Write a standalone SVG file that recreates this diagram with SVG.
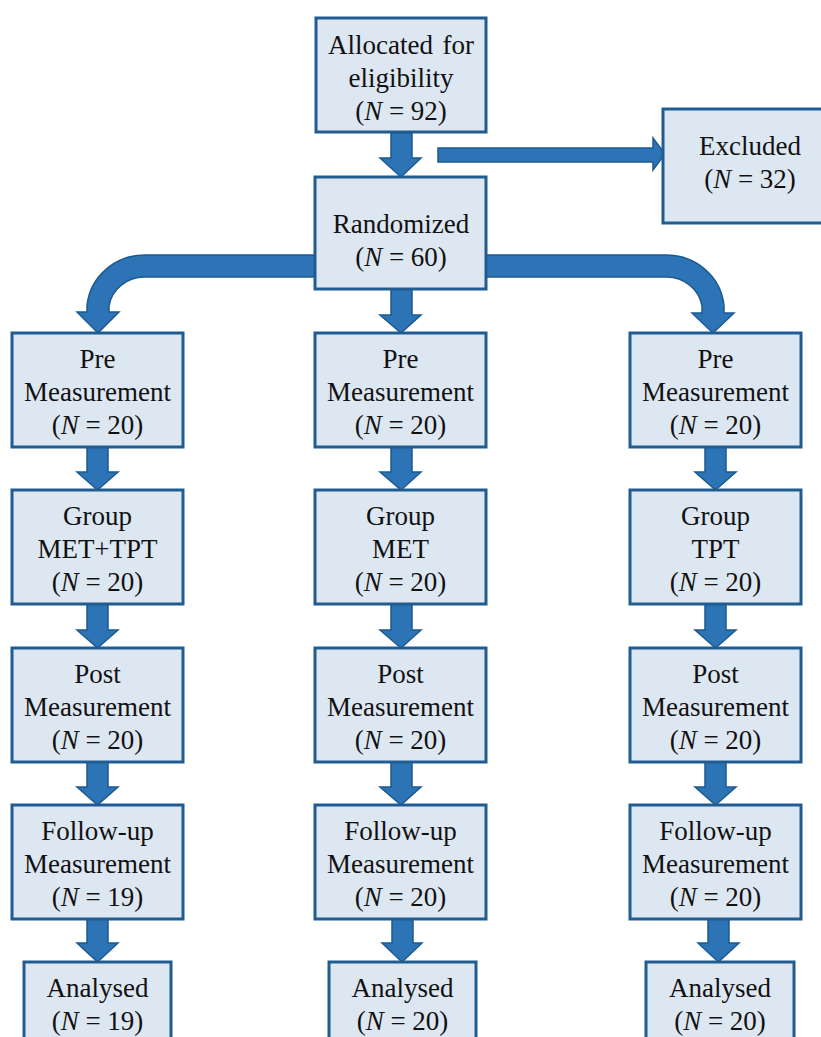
<svg xmlns="http://www.w3.org/2000/svg" width="821" height="1037" viewBox="0 0 821 1037">
<style>
.box{fill:#dde7f2;stroke:#215c91;stroke-width:3}
.arr{fill:#2d74b7;stroke:#1d5a8f;stroke-width:1.5;stroke-linejoin:miter}
.t{font-family:'Liberation Serif','Times New Roman','DejaVu Serif',serif;font-size:27px;fill:#111111;text-anchor:middle}
.i{font-style:italic}
</style>
<rect width="821" height="1037" fill="#ffffff"/>
<g id="connectors">
<path class="arr" d="M391,133 L412,133 L412,158 L421,158 L401,177 L380,158 L391,158 Z"/>
<path class="arr" d="M438,148 L653,148 L653,138 L665,154 L653,170 L653,162 L438,162 Z"/>
<path class="arr" d="M391,289 L412,289 L412,315 L421,315 L401,333 L380,315 L391,315 Z"/>
<path class="arr" d="M480,255 L666,255 A58,56 0 0 1 724,306 L724,313 L734,313 L713,333 L692,313 L702,313 L702,306 A36,34 0 0 0 666,277 L480,277 Z"/>
<path class="arr" d="M320,255 L145,255 A58,56 0 0 0 87,306 L87,312 L77,312 L98,333 L119,312 L109,312 L109,306 A36,34 0 0 1 145,277 L320,277 Z"/>
<path class="arr" d="M87,447 L108,447 L108,472 L118,472 L97.5,490 L77,472 L87,472 Z"/>
<path class="arr" d="M87,604 L108,604 L108,630 L118,630 L97.5,648 L77,630 L87,630 Z"/>
<path class="arr" d="M87,762 L108,762 L108,787 L118,787 L97.5,805 L77,787 L87,787 Z"/>
<path class="arr" d="M87,919 L108,919 L108,943 L118,943 L97.5,962 L77,943 L87,943 Z"/>
<path class="arr" d="M391,447 L412,447 L412,472 L421,472 L401,490 L380,472 L391,472 Z"/>
<path class="arr" d="M391,604 L412,604 L412,630 L421,630 L401,648 L380,630 L391,630 Z"/>
<path class="arr" d="M391,762 L412,762 L412,787 L421,787 L401,805 L380,787 L391,787 Z"/>
<path class="arr" d="M392,919 L413,919 L413,943 L422,943 L402,962 L382,943 L392,943 Z"/>
<path class="arr" d="M705,447 L726,447 L726,472 L736,472 L715.5,490 L695,472 L705,472 Z"/>
<path class="arr" d="M705,604 L726,604 L726,630 L736,630 L715.5,648 L695,630 L705,630 Z"/>
<path class="arr" d="M705,762 L726,762 L726,787 L736,787 L715.5,805 L695,787 L705,787 Z"/>
<path class="arr" d="M708,919 L729,919 L729,943 L739,943 L718.5,962 L698,943 L708,943 Z"/>
</g>
<g id="allocated">
<rect class="box" x="316" y="18" width="170" height="114"/>
<text class="t" x="328" y="54" style="text-anchor:start">Allocated</text>
<text class="t" x="474" y="54" style="text-anchor:end">for</text>
<text class="t" x="401" y="87">eligibility</text>
<text class="t" x="401" y="120">(<tspan class="i">N</tspan> = 92)</text>
</g>
<g id="excluded">
<rect class="box" x="663" y="109" width="175" height="114"/>
<text class="t" x="750" y="155">Excluded</text>
<text class="t" x="750" y="188">(<tspan class="i">N</tspan> = 32)</text>
</g>
<g id="randomized">
<rect class="box" x="315" y="177" width="171" height="112"/>
<text class="t" x="401" y="233">Randomized</text>
<text class="t" x="401" y="266">(<tspan class="i">N</tspan> = 60)</text>
</g>
<g id="pre-left"><rect class="box" x="12" y="333" width="171" height="114"/><text class="t" x="97.5" y="368">Pre</text><text class="t" x="97.5" y="401">Measurement</text><text class="t" x="97.5" y="434">(<tspan class="i">N</tspan> = 20)</text></g>
<g id="group-left"><rect class="box" x="12" y="490" width="171" height="114"/><text class="t" x="97.5" y="525">Group</text><text class="t" x="97.5" y="558">MET+TPT</text><text class="t" x="97.5" y="591">(<tspan class="i">N</tspan> = 20)</text></g>
<g id="post-left"><rect class="box" x="12" y="648" width="171" height="114"/><text class="t" x="97.5" y="683">Post</text><text class="t" x="97.5" y="716">Measurement</text><text class="t" x="97.5" y="749">(<tspan class="i">N</tspan> = 20)</text></g>
<g id="follow-left"><rect class="box" x="12" y="805" width="171" height="114"/><text class="t" x="97.5" y="840">Follow-up</text><text class="t" x="97.5" y="873">Measurement</text><text class="t" x="97.5" y="906">(<tspan class="i">N</tspan> = 19)</text></g>
<g id="analysed-left"><rect class="box" x="24" y="962" width="147" height="100"/><text class="t" x="97.5" y="997">Analysed</text><text class="t" x="97.5" y="1030">(<tspan class="i">N</tspan> = 19)</text></g>
<g id="pre-center"><rect class="box" x="315" y="333" width="171" height="114"/><text class="t" x="400.5" y="368">Pre</text><text class="t" x="400.5" y="401">Measurement</text><text class="t" x="400.5" y="434">(<tspan class="i">N</tspan> = 20)</text></g>
<g id="group-center"><rect class="box" x="315" y="490" width="171" height="114"/><text class="t" x="400.5" y="525">Group</text><text class="t" x="400.5" y="558">MET</text><text class="t" x="400.5" y="591">(<tspan class="i">N</tspan> = 20)</text></g>
<g id="post-center"><rect class="box" x="315" y="648" width="171" height="114"/><text class="t" x="400.5" y="683">Post</text><text class="t" x="400.5" y="716">Measurement</text><text class="t" x="400.5" y="749">(<tspan class="i">N</tspan> = 20)</text></g>
<g id="follow-center"><rect class="box" x="315" y="805" width="171" height="114"/><text class="t" x="400.5" y="840">Follow-up</text><text class="t" x="400.5" y="873">Measurement</text><text class="t" x="400.5" y="906">(<tspan class="i">N</tspan> = 20)</text></g>
<g id="analysed-center"><rect class="box" x="329" y="962" width="147" height="100"/><text class="t" x="402.5" y="997">Analysed</text><text class="t" x="402.5" y="1030">(<tspan class="i">N</tspan> = 20)</text></g>
<g id="pre-right"><rect class="box" x="630" y="333" width="171" height="114"/><text class="t" x="715.5" y="368">Pre</text><text class="t" x="715.5" y="401">Measurement</text><text class="t" x="715.5" y="434">(<tspan class="i">N</tspan> = 20)</text></g>
<g id="group-right"><rect class="box" x="630" y="490" width="171" height="114"/><text class="t" x="715.5" y="525">Group</text><text class="t" x="715.5" y="558">TPT</text><text class="t" x="715.5" y="591">(<tspan class="i">N</tspan> = 20)</text></g>
<g id="post-right"><rect class="box" x="630" y="648" width="171" height="114"/><text class="t" x="715.5" y="683">Post</text><text class="t" x="715.5" y="716">Measurement</text><text class="t" x="715.5" y="749">(<tspan class="i">N</tspan> = 20)</text></g>
<g id="follow-right"><rect class="box" x="630" y="805" width="171" height="114"/><text class="t" x="715.5" y="840">Follow-up</text><text class="t" x="715.5" y="873">Measurement</text><text class="t" x="715.5" y="906">(<tspan class="i">N</tspan> = 20)</text></g>
<g id="analysed-right"><rect class="box" x="646" y="962" width="148" height="100"/><text class="t" x="720" y="997">Analysed</text><text class="t" x="720" y="1030">(<tspan class="i">N</tspan> = 20)</text></g>
</svg>
